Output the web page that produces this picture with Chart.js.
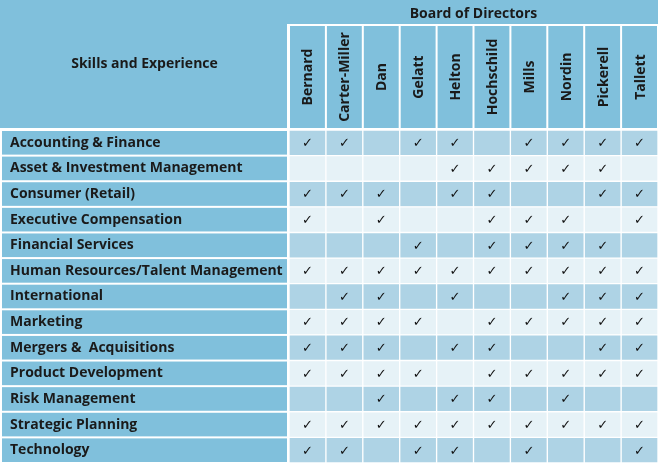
<!DOCTYPE html>
<html>
<head>
<meta charset="utf-8">
<script src="https://cdn.jsdelivr.net/npm/chart.js@4"></script>
<style>
  html, body { margin: 0; padding: 0; background: #fff; }
  #wrap { width: 661px; height: 464px; position: relative; }
</style>
</head>
<body>
<div id="wrap"><canvas id="board"></canvas></div>
<script>
const skills = [
    'Accounting & Finance',
    'Asset & Investment Management',
    'Consumer (Retail)',
    'Executive Compensation',
    'Financial Services',
    'Human Resources/Talent Management',
    'International',
    'Marketing',
    'Mergers &  Acquisitions',
    'Product Development',
    'Risk Management',
    'Strategic Planning',
    'Technology'
];
const directors = ['Bernard', 'Carter-Miller', 'Dan', 'Gelatt', 'Helton',
    'Hochschild', 'Mills', 'Nordin', 'Pickerell', 'Tallett'];

// 1 = check mark, one value per skill (same order as skills)
const bernard      = [1, 0, 1, 1, 0, 1, 0, 1, 1, 1, 0, 1, 1];
const carterMiller = [1, 0, 1, 0, 0, 1, 1, 1, 1, 1, 0, 1, 1];
const dan          = [0, 0, 1, 1, 0, 1, 1, 1, 1, 1, 1, 1, 0];
const gelatt       = [1, 0, 0, 0, 1, 1, 0, 1, 0, 1, 0, 1, 1];
const helton       = [1, 1, 1, 0, 0, 1, 1, 0, 1, 0, 1, 1, 1];
const hochschild   = [0, 1, 1, 1, 1, 1, 0, 1, 1, 1, 1, 1, 0];
const mills        = [1, 1, 0, 1, 1, 1, 0, 1, 0, 1, 0, 1, 1];
const nordin       = [1, 1, 0, 1, 1, 1, 1, 1, 0, 1, 1, 1, 0];
const pickerell    = [1, 1, 1, 0, 1, 1, 1, 1, 1, 1, 0, 1, 0];
const tallett      = [1, 0, 1, 1, 0, 1, 1, 1, 1, 1, 0, 1, 1];
const checks = [bernard, carterMiller, dan, gelatt, helton,
    hochschild, mills, nordin, pickerell, tallett];

const headerBlue = '#80c0dc';
const rowDark = '#aed3e5';
const rowLight = '#e6f2f7';
const textColor = '#1a1a1a';
const labelFont = { family: '"Open Sans", sans-serif', size: 14, weight: '700' };

// table frame: header band, director header cells, skill label cells
const tableFrame = {
    id: 'tableFrame',
    beforeDraw(chart) {
        const { ctx, chartArea, scales } = chart;
        const xs = scales.x, ys = scales.y;
        const band = (chartArea.bottom - chartArea.top) / skills.length;
        ctx.save();
        ctx.fillStyle = '#fff';
        ctx.fillRect(0, 0, chart.width, chart.height);
        ctx.fillStyle = headerBlue;
        ctx.fillRect(0, 0, chartArea.right, chartArea.top - 2);
        ctx.fillStyle = '#fff';
        ctx.fillRect(chartArea.left - 2, 24, chartArea.right - chartArea.left + 4, chartArea.top - 24);
        ctx.fillStyle = headerBlue;
        directors.forEach((d, j) => {
            const l = xs.getPixelForValue(j) + 1;
            const r = xs.getPixelForValue(j + 1) - 1;
            ctx.fillRect(l, 26, r - l, chartArea.top - 2 - 26);
        });
        skills.forEach((s, i) => {
            const c = ys.getPixelForValue(i);
            ctx.fillRect(2, c - band / 2 + 1, chartArea.left - 4, band - 2);
        });
        ctx.restore();
    },
    afterDatasetsDraw(chart) {
        const { ctx, chartArea, scales } = chart;
        const xs = scales.x, ys = scales.y;
        ctx.save();
        // check marks
        ctx.fillStyle = '#111';
        ctx.font = 'bold 13px "DejaVu Sans"';
        ctx.textAlign = 'center';
        ctx.textBaseline = 'middle';
        checks.forEach((col, j) => {
            col.forEach((v, i) => {
                if (v) ctx.fillText('\u2713', xs.getPixelForValue(j + 0.5), ys.getPixelForValue(i) + 1);
            });
        });
        // director names, rotated
        ctx.fillStyle = textColor;
        ctx.font = '700 14px "Open Sans"';
        const midY = (26 + chartArea.top - 2) / 2;
        directors.forEach((name, j) => {
            ctx.save();
            ctx.translate(xs.getPixelForValue(j + 0.5), midY);
            ctx.rotate(-Math.PI / 2);
            ctx.fillText(name, 0, 1);
            ctx.restore();
        });
        ctx.fillText('Skills and Experience', (2 + chartArea.left - 2) / 2, (chartArea.top - 2) / 2);
        ctx.restore();
    }
};

const datasets = directors.map((name, j) => ({
    label: name,
    data: skills.map(() => 1),
    backgroundColor: c => (c.dataIndex % 2 ? rowLight : rowDark),
    borderColor: '#fff',
    borderWidth: 1,
    borderSkipped: false,
    categoryPercentage: 1,
    barPercentage: 1
}));

new Chart(document.getElementById('board'), {
    type: 'bar',
    data: { labels: skills, datasets: datasets },
    options: {
        indexAxis: 'y',
        responsive: true,
        maintainAspectRatio: false,
        animation: false,
        layout: { padding: { left: 10, right: 3, top: 0, bottom: 1 } },
        plugins: {
            legend: { display: false },
            tooltip: { enabled: false }
        },
        scales: {
            x: {
                type: 'linear',
                position: 'top',
                min: 0,
                max: 10,
                stacked: true,
                grid: { display: false },
                border: { display: false },
                ticks: { display: false },
                title: {
                    display: true,
                    text: 'Board of Directors',
                    color: textColor,
                    font: labelFont,
                    padding: { top: 6, bottom: 0 }
                },
                afterFit: s => { s.height = 130; s.paddingLeft = 0; s.paddingRight = 0; }
            },
            y: {
                stacked: true,
                grid: { display: false },
                border: { display: false },
                ticks: { crossAlign: 'far', padding: 0, color: textColor, font: labelFont },
                afterFit: s => { s.width = 279; s.paddingTop = 0; s.paddingBottom = 0; }
            }
        }
    },
    plugins: [tableFrame]
});
</script>
</body>
</html>
